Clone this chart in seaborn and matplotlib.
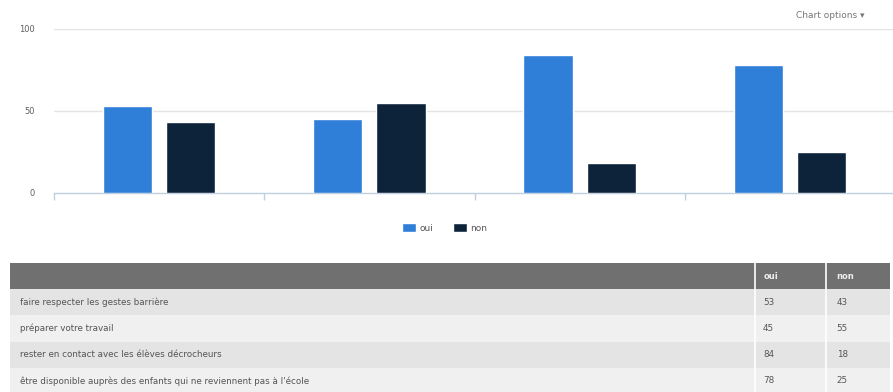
import pandas as pd
import numpy as np
import seaborn as sns
import matplotlib.pyplot as plt

# survey answers, one entry per question
questions = [
    "faire respecter les gestes barrière",
    "préparer votre travail",
    "rester en contact avec les élèves décrocheurs",
    "être disponible auprès des enfants qui ne reviennent pas à l'école",
]
oui = [53, 45, 84, 78]
non = [43, 55, 18, 25]
answers = ["oui", "non"]
y_ticks = [0, 50, 100]

colors = ["#2f7ed8", "#0d233a"]

df = pd.DataFrame({
    "question": questions * 2,
    "reponse": ["oui"] * len(questions) + ["non"] * len(questions),
    "valeur": oui + non,
})

sns.set_style("white")
plt.rcParams["font.family"] = ["DejaVu Sans"]

fig = plt.figure(figsize=(8.93, 3.92), dpi=100)

# bar chart
ax = fig.add_axes([54 / 893, 1 - 193 / 392, 841 / 893, 164 / 392])
sns.barplot(data=df, x="question", y="valeur", hue="reponse", hue_order=answers,
            palette=colors, width=0.6, gap=0.22, saturation=1, ax=ax, zorder=3)
ax.set_xlim(-0.5, len(questions) - 0.5)
ax.set_ylim(0, 100)
ax.set_yticks(y_ticks)
ax.set_yticklabels([str(t) for t in y_ticks], fontsize=6, color="#606060")
ax.tick_params(axis="y", length=0, pad=14)
ax.set_xticks([])
ax.set_xticks(np.arange(-0.5, len(questions), 1.0), minor=True)
ax.tick_params(axis="x", which="minor", bottom=True, length=5, color="#c0d0e0", width=1)
ax.set_xlabel("")
ax.set_ylabel("")
for t in y_ticks[1:]:
    ax.axhline(t, color="#e4e4e4", lw=1, zorder=1)
for s in ["top", "right", "left"]:
    ax.spines[s].set_visible(False)
ax.spines["bottom"].set_color("#c0d0e0")
ax.spines["bottom"].set_linewidth(1)

handles, labels = ax.get_legend_handles_labels()
ax.get_legend().remove()
fig.legend(handles, labels, loc="center", bbox_to_anchor=(445 / 893, 1 - 228 / 392),
           ncol=2, frameon=False, fontsize=6.5, handlelength=1.5, handleheight=1.1,
           columnspacing=2.2, handletextpad=0.4, labelcolor="#555555")

fig.text(865 / 893, 1 - 15 / 392, "Chart options ▾", ha="right", va="center",
         fontsize=6.5, color="#777777")

# data table under the chart
tab = fig.add_axes([10 / 893, 1 - 394 / 392, 880 / 893, 131 / 392])
tab.set_xlim(0, 1)
tab.set_ylim(len(questions) - 0.5, -1.5)
tab.axis("off")
tab.axhspan(-1.5, -0.5, color="#707070", lw=0)
row_colors = ["#e4e4e4", "#f0f0f0"]
for i in range(len(questions)):
    tab.axhspan(i - 0.5, i + 0.5, color=row_colors[i % 2], lw=0)
col1 = (755 - 10) / 880
col2 = (826 - 10) / 880
for c in [col1, col2]:
    tab.axvline(c, color="white", lw=1.2)
tab.text(col1 + 0.01, -1, "oui", fontsize=6, color="#eeeeee", va="center", fontweight="bold")
tab.text(col2 + 0.012, -1, "non", fontsize=6, color="#eeeeee", va="center", fontweight="bold")
for i, q in enumerate(questions):
    tab.text(0.011, i, q, fontsize=6.3, color="#555555", va="center")
    tab.text(col1 + 0.009, i, str(oui[i]), fontsize=6.3, color="#555555", va="center")
    tab.text(col2 + 0.012, i, str(non[i]), fontsize=6.3, color="#555555", va="center")

fig.savefig("out.png", dpi=100)
